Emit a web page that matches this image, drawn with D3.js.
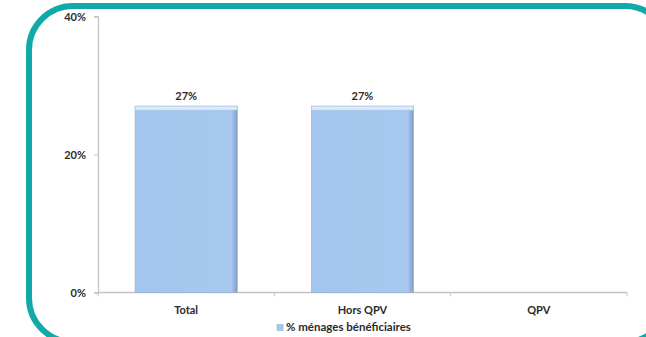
<!DOCTYPE html>
<html>
<head>
<meta charset="utf-8">
<script src="https://cdn.jsdelivr.net/npm/d3@7/dist/d3.min.js"></script>
<style>
  html, body { margin: 0; padding: 0; background: #fff; }
  svg { display: block; }
  text { font-family: Lato, "Open Sans", "Liberation Sans", sans-serif; font-weight: 700; fill: #2b2b2b; }
</style>
</head>
<body>
<svg id="chart" width="646" height="337"></svg>
<script>
// Share of households receiving the benefit, by area
const categories = ["Total", "Hors QPV", "QPV"];
const values = [0.27, 0.27, null];
const yTicks = [0, 0.2, 0.4];
const seriesName = "% ménages bénéficiaires";

const W = 646, H = 337;
const margin = { left: 98, right: 19, top: 16.5, bottom: 44.5 };

const svg = d3.select("#chart");

// Teal rounded frame
svg.append("rect")
  .attr("x", 29).attr("y", 6)
  .attr("width", 640).attr("height", 336)
  .attr("rx", 44).attr("ry", 44)
  .attr("fill", "none")
  .attr("stroke", "#12aaa8")
  .attr("stroke-width", 6);

const x = d3.scaleBand()
  .domain(categories)
  .range([margin.left, W - margin.right])
  .paddingInner(0.42)
  .paddingOuter(0.21);

const y = d3.scaleLinear()
  .domain([0, 0.4])
  .range([H - margin.bottom, margin.top]);

const defs = svg.append("defs");
const grad = defs.append("linearGradient").attr("id", "barFill")
  .attr("x1", 0).attr("x2", 1).attr("y1", 0).attr("y2", 0);
grad.append("stop").attr("offset", 0).attr("stop-color", "#a4c6ee");
grad.append("stop").attr("offset", 0.94).attr("stop-color", "#a6c8ef");
grad.append("stop").attr("offset", 1).attr("stop-color", "#7f9fc4");

// Y axis
const yAxis = d3.axisLeft(y)
  .tickValues(yTicks)
  .tickFormat(d3.format(".0%"))
  .tickSize(4)
  .tickPadding(8);
const gy = svg.append("g")
  .attr("transform", `translate(${margin.left},0)`)
  .call(yAxis);
gy.select(".domain").attr("stroke", "#c4c4c4").attr("stroke-width", 1.3);
gy.selectAll(".tick line").attr("stroke", "#c4c4c4");
gy.selectAll(".tick text").attr("font-size", 11).attr("fill", "#2b2b2b")
  .attr("font-family", "Lato, 'Open Sans', sans-serif").attr("font-weight", 700);

// X axis with boundary ticks between categories
const baseY = y(0);
svg.append("line")
  .attr("x1", margin.left).attr("x2", W - margin.right)
  .attr("y1", baseY).attr("y2", baseY)
  .attr("stroke", "#c4c4c4").attr("stroke-width", 1.3);
const bounds = d3.range(categories.length + 1).map(i => margin.left + (W - margin.right - margin.left) * i / categories.length);
svg.selectAll(".xtick").data(bounds).join("line")
  .attr("class", "xtick")
  .attr("x1", d => d).attr("x2", d => d)
  .attr("y1", baseY).attr("y2", baseY + 4)
  .attr("stroke", "#c4c4c4");

svg.selectAll(".xlabel").data(categories).join("text")
  .attr("class", "xlabel")
  .attr("x", d => x(d) + x.bandwidth() / 2)
  .attr("y", baseY + 21)
  .attr("text-anchor", "middle")
  .attr("font-size", 11)
  .text(d => d);

// Bars
const data = categories.map((c, i) => ({ c, v: values[i] })).filter(d => d.v != null);
const bars = svg.selectAll(".bar").data(data).join("g").attr("class", "bar");
bars.append("rect")
  .attr("x", d => x(d.c))
  .attr("y", d => y(d.v))
  .attr("width", x.bandwidth())
  .attr("height", d => y(0) - y(d.v))
  .attr("fill", "url(#barFill)")
  .attr("stroke", "#8fb0d6")
  .attr("stroke-width", 0.6);
// light bevel on top
bars.append("rect")
  .attr("x", d => x(d.c))
  .attr("y", d => y(d.v))
  .attr("width", x.bandwidth())
  .attr("height", 4)
  .attr("rx", 1.5)
  .attr("fill", "#dcecfb")
  .attr("stroke", "#a9c6e8")
  .attr("stroke-width", 0.6);

bars.append("text")
  .attr("x", d => x(d.c) + x.bandwidth() / 2)
  .attr("y", d => y(d.v) - 6)
  .attr("text-anchor", "middle")
  .attr("font-size", 11)
  .text(d => d3.format(".0%")(d.v));

// Legend
const legend = svg.append("g").attr("transform", "translate(277,331)");
legend.append("rect")
  .attr("x", 0).attr("y", -6.5).attr("width", 6).attr("height", 6)
  .attr("fill", "#a6c8ef").attr("stroke", "#8fb0d6").attr("stroke-width", 0.6);
legend.append("text")
  .attr("x", 9).attr("y", 0)
  .attr("font-size", 11.5)
  .text(seriesName);
</script>
</body>
</html>
